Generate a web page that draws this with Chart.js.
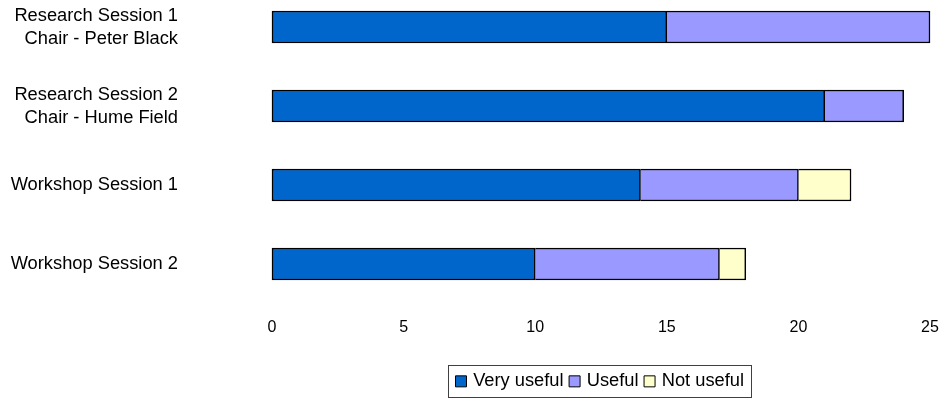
<!DOCTYPE html>
<html>
<head>
<meta charset="utf-8">
<script src="https://cdn.jsdelivr.net/npm/chart.js@4/dist/chart.umd.min.js"></script>
<style>
html,body{margin:0;padding:0;background:#fff;}
#wrap{width:945px;height:399px;}
</style>
</head>
<body>
<div id="wrap"><canvas id="c" width="945" height="399"></canvas></div>
<script>
const categories = [
  ['Research Session 1', 'Chair - Peter Black'],
  ['Research Session 2', 'Chair - Hume Field'],
  'Workshop Session 1',
  'Workshop Session 2'
];
const seriesNames = ['Very useful', 'Useful', 'Not useful'];
const veryUseful = [15, 21, 14, 10];
const useful = [10, 3, 6, 7];
const notUseful = [0, 0, 2, 1];
const xTicks = [0, 5, 10, 15, 20, 25];

const colors = ['#0066CC', '#9999FF', '#FFFFCC'];
const sansFamily = "'Liberation Sans', Arial, sans-serif";

const legendBorder = {
  id: 'legendBorder',
  afterDraw(chart) {
    const hb = chart.legend && chart.legend.legendHitBoxes;
    if (!hb || !hb.length) return;
    const first = hb[0], last = hb[hb.length - 1];
    const left = Math.round(first.left - 2.5 - 7) + 0.5;
    const right = Math.round(last.left + last.width + 7) + 0.5;
    const mid = first.top + first.height / 2;
    const top = Math.round(mid - 16) + 0.5;
    const ctx = chart.ctx;
    ctx.save();
    ctx.strokeStyle = '#404040';
    ctx.lineWidth = 1;
    ctx.strokeRect(left, top, right - left, 32);
    ctx.restore();
  }
};

const seg = {top: 1.5, bottom: 1.5, right: 1.5, left: 0};
const full = {top: 1.5, bottom: 1.5, right: 1.5, left: 1.5};

new Chart(document.getElementById('c'), {
  type: 'bar',
  data: {
    labels: categories,
    datasets: [
      {label: seriesNames[0], data: veryUseful, backgroundColor: colors[0], borderColor: '#000', borderWidth: full, borderSkipped: false},
      {label: seriesNames[1], data: useful, backgroundColor: colors[1], borderColor: '#000', borderWidth: seg},
      {label: seriesNames[2], data: notUseful, backgroundColor: colors[2], borderColor: '#000', borderWidth: seg}
    ]
  },
  options: {
    indexAxis: 'y',
    responsive: false,
    animation: false,
    devicePixelRatio: 1,
    barThickness: 32,
    datasets: {bar: {clip: false}},
    layout: {padding: {top: 27, right: 15, left: 0, bottom: -1.5}},
    scales: {
      x: {
        stacked: true,
        min: 0, max: 25,
        afterBuildTicks: s => { s.ticks = xTicks.map(v => ({value: v})); },
        grid: {display: false, drawTicks: true, tickLength: 54},
        border: {display: false},
        ticks: {color: '#000', padding: 0, font: {family: sansFamily, size: 16}, maxRotation: 0},
        afterFit: s => { s.height = 100.2; }
      },
      y: {
        stacked: true,
        offset: false,
        grid: {display: false, drawTicks: true, tickLength: 94},
        border: {display: false},
        ticks: {color: '#000', padding: 0, font: {family: sansFamily, size: 18.3, lineHeight: 1.257}},
        afterFit: s => { s.width = 272; }
      }
    },
    plugins: {
      tooltip: {enabled: false},
      legend: {
        position: 'bottom',
        fullSize: false,
        align: 'center',
        labels: {
          color: '#000',
          usePointStyle: true,
          pointStyle: 'rect',
          boxWidth: 6,
          boxHeight: 11,
          padding: 8,
          font: {family: sansFamily, size: 18.3},
          generateLabels(chart) {
            const items = Chart.defaults.plugins.legend.labels.generateLabels(chart);
            items.forEach(it => { it.lineWidth = 1; it.strokeStyle = '#000'; it.pointStyle = 'rect'; it.rotation = 0; });
            return items;
          }
        }
      }
    }
  },
  plugins: [legendBorder]
});
</script>
</body>
</html>
